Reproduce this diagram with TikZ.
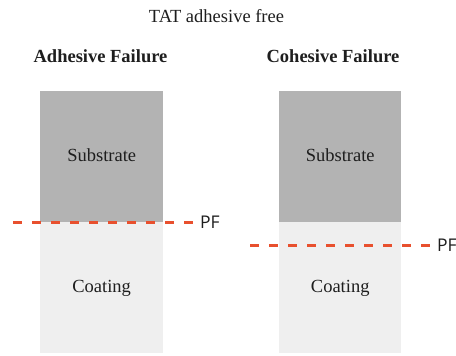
\documentclass[tikz,border=0pt]{standalone}
\usepackage{fontspec}
\setmainfont{Liberation Serif}
\newfontfamily\pffont{Open Sans}
\definecolor{substrategray}{HTML}{B3B3B3}
\definecolor{coatinggray}{HTML}{EFEFEF}
\definecolor{pfred}{HTML}{E8502E}
\definecolor{inkgray}{HTML}{1E1E1E}
\begin{document}
\begin{tikzpicture}[x=1pt,y=-1pt,
  layer/.style={draw=none, anchor=north west, minimum width=123pt, minimum height=131pt,
    inner sep=0pt, text height=12pt, text depth=2pt, font=\fontsize{18.5}{20}\selectfont, text=inkgray},
  substrate/.style={layer, fill=substrategray},
  coating/.style={layer, fill=coatinggray},
  heading/.style={anchor=base, inner sep=0pt, font=\fontsize{18.5}{20}\selectfont\bfseries, text=inkgray},
  pflabel/.style={anchor=base west, inner sep=0pt, font=\pffont\fontsize{17.5}{19}\selectfont, text=inkgray},
  pfline/.style={draw=pfred, line width=3pt, dash pattern=on 9pt off 10pt}]
\useasboundingbox (0,0) rectangle (456,356);

% titles
\node[anchor=base, inner sep=0pt, font=\fontsize{18.5}{20}\selectfont, text=inkgray] (title) at (216.5,22) {TAT adhesive free};
\node[heading] (headA) at (100.5,62) {Adhesive Failure};
\node[heading] (headC) at (333,62) {Cohesive Failure};

% adhesive failure column
\node[substrate] (subA) at (40,91) {Substrate};
\node[coating] (coatA) at (40,222) {Coating};

% cohesive failure column
\node[substrate, minimum width=122pt] (subC) at (279,91) {Substrate};
\node[coating, minimum width=122pt] (coatC) at (279,222) {Coating};

% failure planes
\node[pflabel] (pfA) at (200,228) {PF};
\node[pflabel] (pfC) at (437,251) {PF};
\coordinate (startA) at (13,222);
\coordinate (startC) at (250,245);
\draw[pfline] (startA) -- ([xshift=-7pt]startA -| pfA.west);
\draw[pfline] (startC) -- ([xshift=-7pt]startC -| pfC.west);
\end{tikzpicture}
\end{document}
